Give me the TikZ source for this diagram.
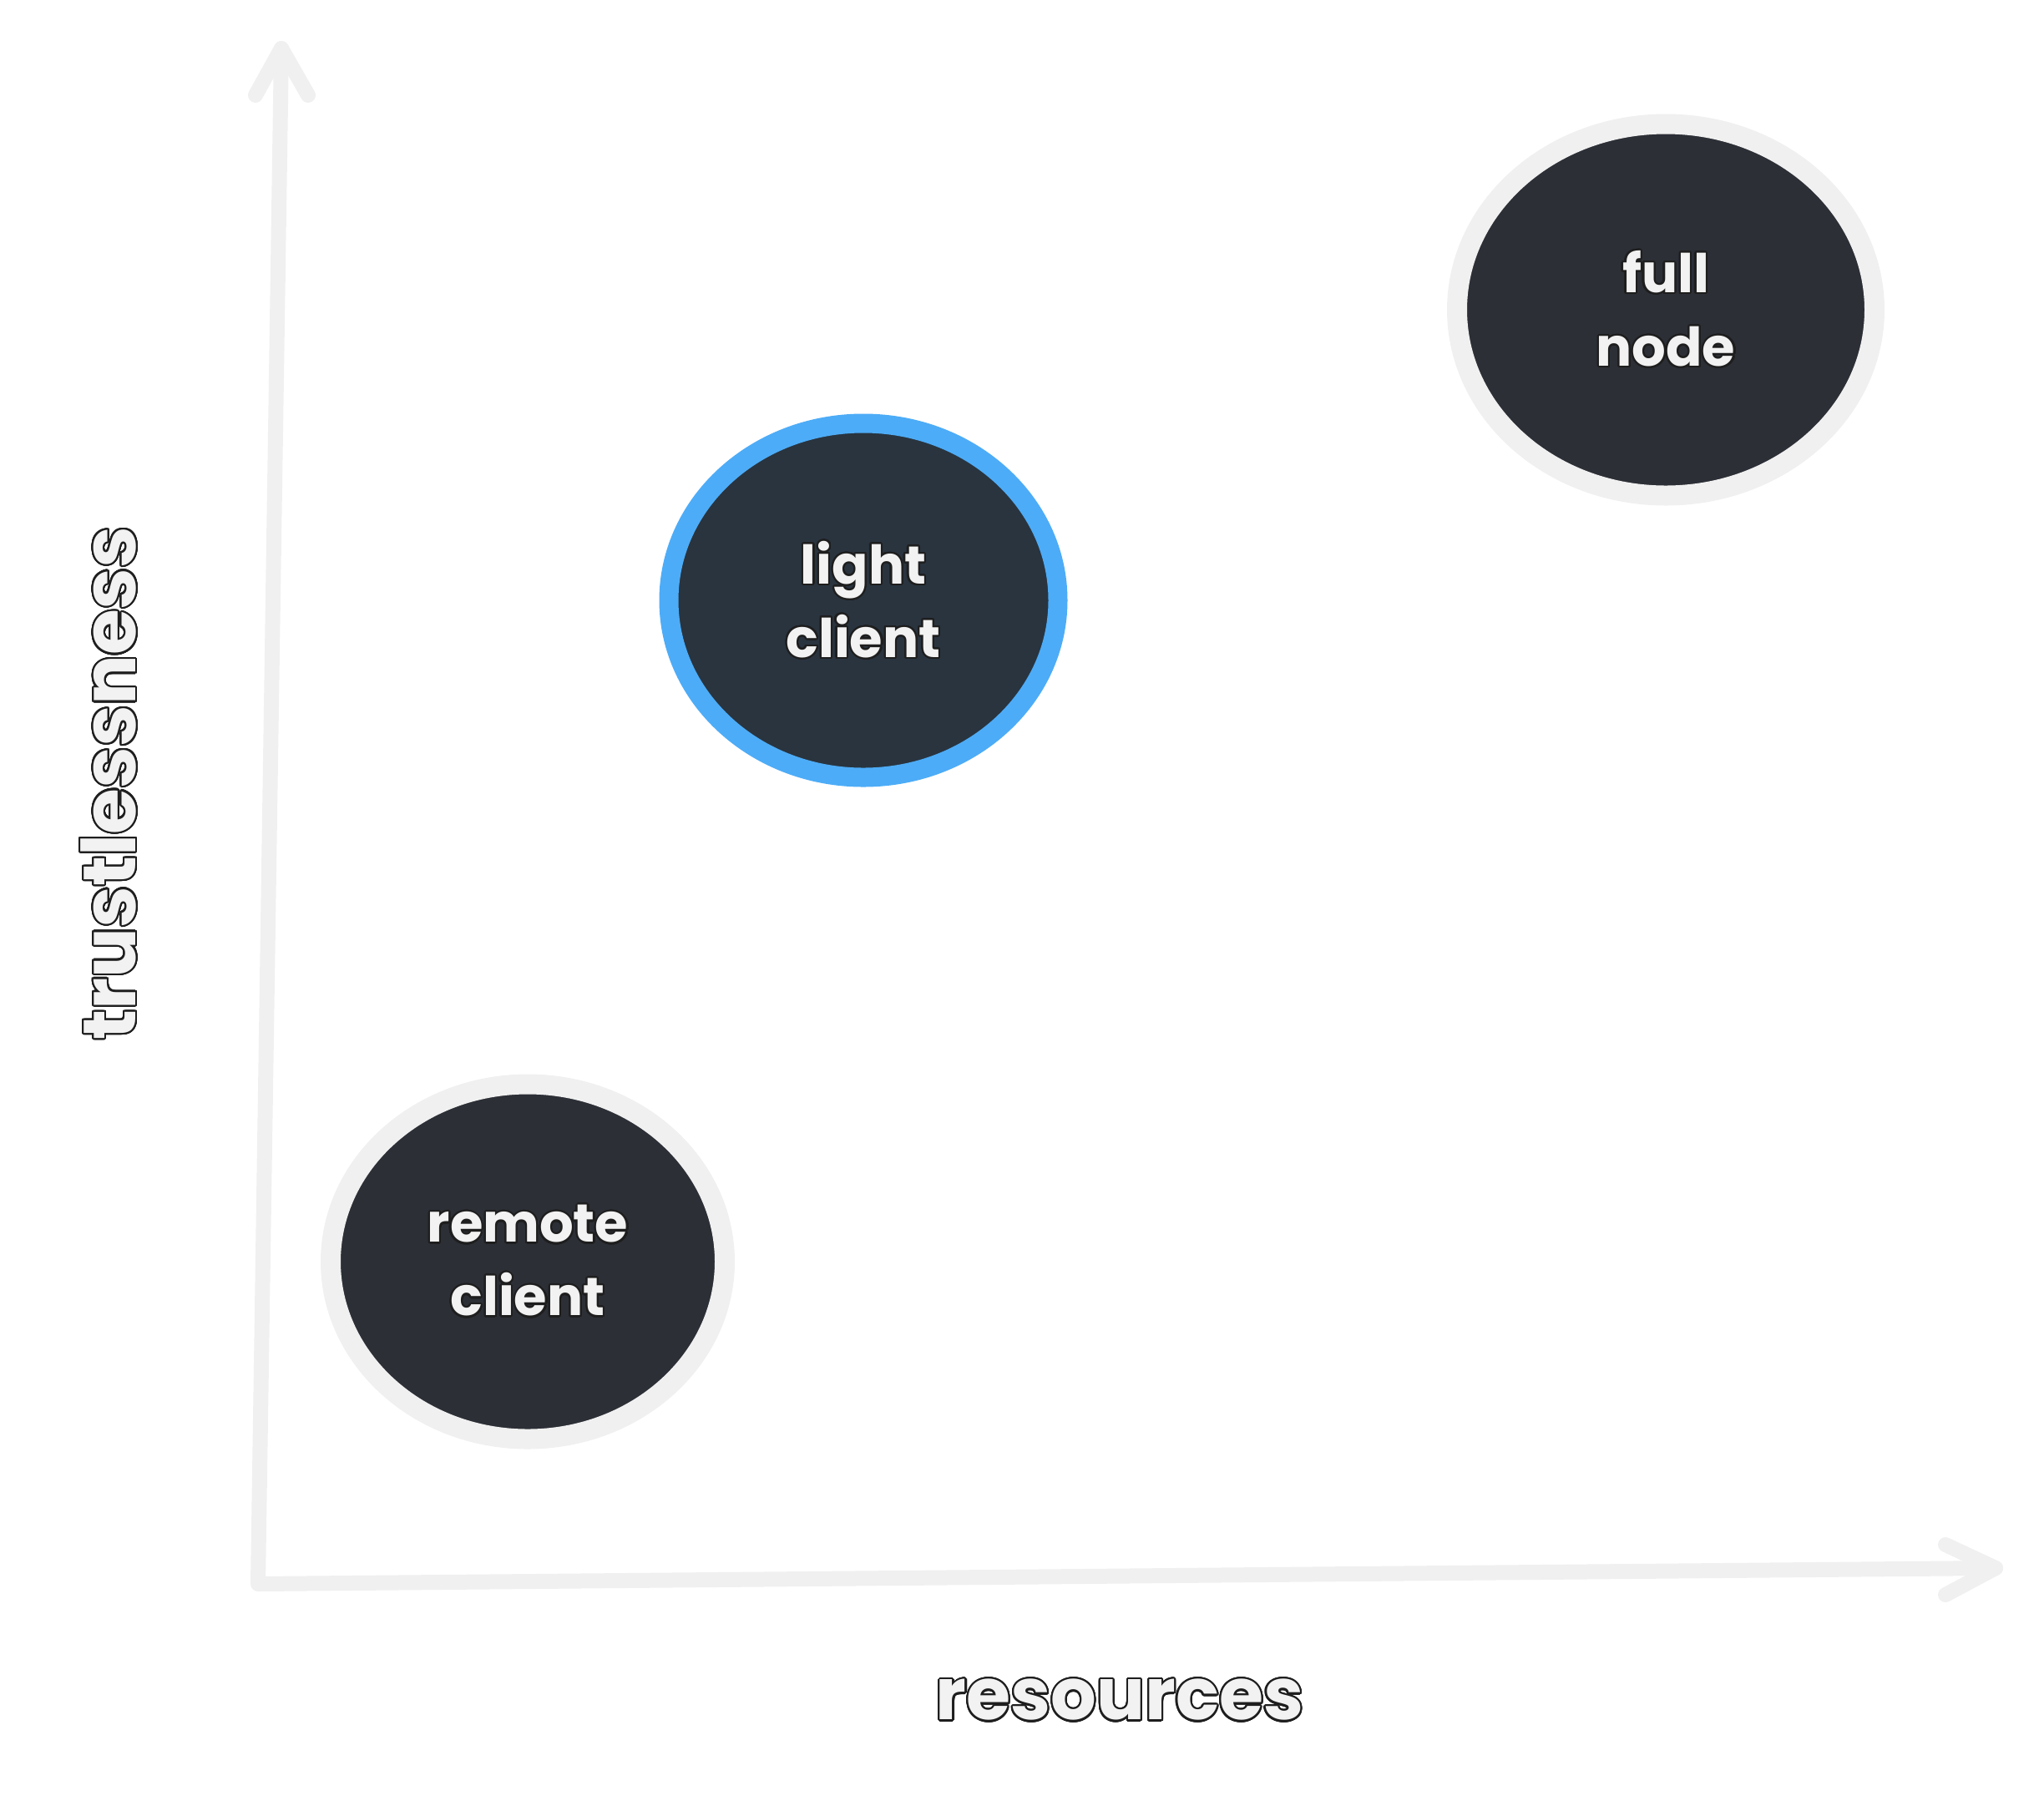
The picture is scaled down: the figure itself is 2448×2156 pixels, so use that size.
\documentclass[tikz,border=0pt]{standalone}
\usepackage{fontspec}
\setmainfont{Poppins}
\usepackage{contour}
\contourlength{2.2pt}
\contournumber{32}
\usetikzlibrary{shapes.geometric}
\definecolor{axisgray}{HTML}{F0F0F0}
\definecolor{darkfill}{HTML}{2C2F36}
\definecolor{lightfill}{HTML}{29343F}
\definecolor{blueline}{HTML}{4DACF7}
\definecolor{textfill}{HTML}{F2F2F2}
\definecolor{outline}{HTML}{1E1E1E}
\newcommand{\olt}[1]{\contour{outline}{#1}}
\tikzset{
  axisline/.style={draw=axisgray, line width=18pt, line cap=round, line join=round},
  bubble/.style={ellipse, draw=axisgray, fill=darkfill, line width=24pt, align=center,
    text=textfill, font=\fontsize{64}{88}\selectfont\bfseries, inner sep=0pt},
  axislabel/.style={text=textfill, font=\fontsize{86}{100}\selectfont\bfseries, inner sep=0pt}
}
\begin{document}
\begin{tikzpicture}[x=1pt,y=-1pt]
\useasboundingbox (0,0) rectangle (2448,2156);
% axes
\coordinate (top) at (337,58);
\coordinate (origin) at (309,1897);
\coordinate (right) at (2390,1878);
\coordinate (tw1) at (306,114);
\coordinate (tw2) at (369,114);
\coordinate (rw1) at (2330,1850);
\coordinate (rw2) at (2330,1910);
\draw[axisline] (top) -- (origin) -- (right);
\draw[axisline] (tw1) -- (top) -- (tw2);
\draw[axisline] (rw1) -- (right) -- (rw2);
% bubbles
\node[bubble, minimum width=500pt, minimum height=445pt] (full) at (1995,371)
  {\olt{full}\\\olt{node}};
\node[bubble, draw=blueline, fill=lightfill, line width=23pt, minimum width=466pt, minimum height=424pt] (light) at (1034,719)
  {\olt{light}\\\olt{client}};
\node[bubble, minimum width=472pt, minimum height=425pt] (remote) at (632,1511)
  {\olt{remote}\\\olt{client}};
% axis labels
\node[axislabel] (res) at (1341,2037) {\olt{resources}};
\node[axislabel, font=\fontsize{89}{100}\selectfont\bfseries, rotate=90] (trust) at (131,938) {\olt{trustlessness}};
\end{tikzpicture}
\end{document}
